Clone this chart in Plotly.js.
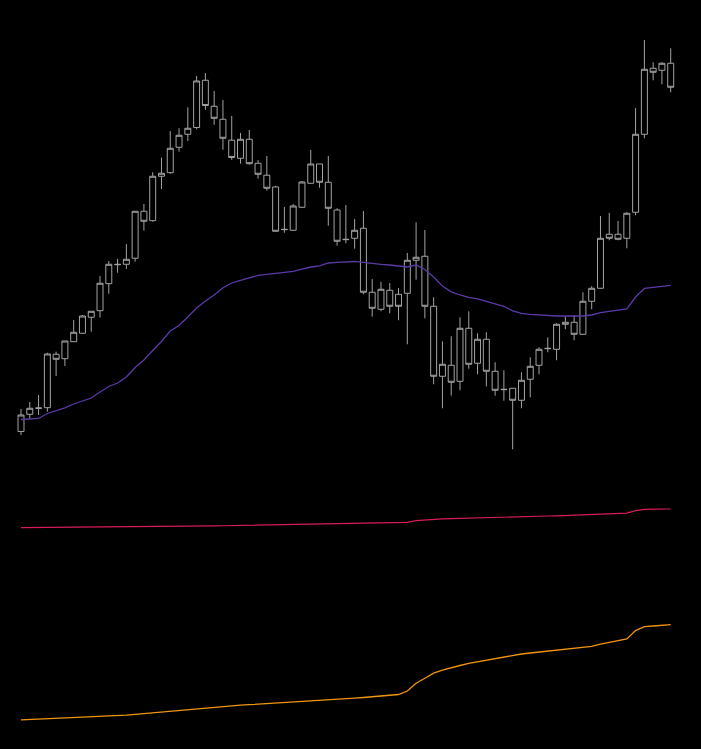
<!DOCTYPE html>
<html>
<head>
<meta charset="utf-8">
<script src="https://cdn.plot.ly/plotly-3.0.1.min.js"></script>
<style>html,body{margin:0;padding:0;background:#000;}#chart{width:701px;height:749px;}</style>
</head>
<body>
<div id="chart"></div>
<script>
// bar index
const bars = Array.from({length: 75}, (_, i) => i);

const openV  = [17.13,21.43,23.00,23.08,36.43,35.33,39.58,41.68,45.68,47.33,54.08,58.93,58.93,60.43,72.18,69.83,80.93,81.83,88.18,91.43,93.13,104.93,98.43,95.18,89.95,85.43,90.18,84.18,81.20,78.25,67.68,67.43,73.18,79.18,84.00,79.43,72.50,65.18,65.43,67.93,51.93,47.68,52.43,51.43,51.68,59.93,60.93,48.43,30.93,33.68,29.68,42.93,34.18,40.18,32.18,27.68,27.93,24.93,30.18,33.68,37.93,37.68,43.93,44.43,41.43,49.68,52.93,66.43,66.43,65.43,71.93,91.43,107.93,107.43,109.18];
const highV  = [22.75,24.50,26.25,36.83,37.08,39.75,45.00,46.25,47.18,56.00,59.75,60.25,64.00,72.18,74.00,81.93,85.58,92.25,92.93,98.18,106.00,106.75,102.25,100.00,96.00,91.75,92.50,85.00,86.00,78.50,73.25,74.00,79.75,87.50,84.00,86.00,72.93,73.75,70.25,72.25,55.25,54.50,54.25,53.00,61.75,69.43,67.50,50.68,39.68,40.93,45.68,47.18,41.68,41.93,34.43,32.43,27.93,31.93,35.68,38.18,40.68,44.18,45.93,46.18,51.93,53.43,71.00,71.75,69.75,71.93,98.00,115.00,109.43,109.43,112.93];
const lowV   = [16.25,20.25,21.25,22.08,31.00,33.50,39.50,41.60,42.08,45.58,51.58,56.83,57.75,59.58,67.33,69.58,77.75,81.58,87.08,89.75,92.68,97.55,93.80,87.55,85.05,84.08,83.83,80.33,77.33,67.10,66.83,67.35,73.10,79.10,78.08,68.58,63.58,64.18,62.83,51.43,45.83,47.18,46.68,44.93,38.93,55.08,45.43,28.93,22.93,26.08,27.43,32.83,31.43,28.43,26.08,24.83,12.68,22.93,25.68,31.43,36.93,34.93,42.68,39.93,41.35,47.68,52.85,64.93,64.93,62.93,71.18,90.43,104.93,103.93,101.93];
const closeV = [21.25,22.93,22.95,36.50,35.18,39.75,41.93,46.00,47.18,54.18,58.93,58.85,60.18,72.18,69.68,80.93,81.68,87.93,91.18,92.93,104.75,98.63,95.43,90.43,85.63,90.18,84.08,81.43,77.93,67.18,67.60,73.50,79.50,84.00,79.43,72.93,64.68,65.10,67.43,51.93,47.93,52.68,48.43,48.43,59.93,60.68,48.43,30.93,33.93,29.43,42.93,33.93,40.18,32.18,27.43,27.60,24.93,29.93,33.43,37.68,37.85,43.93,44.43,41.43,49.68,52.93,65.43,65.43,65.18,71.68,91.43,107.68,106.93,109.18,103.18];

// moving average (purple)
const maV = [20.13,20.25,20.38,21.63,22.25,23.05,24.00,24.75,25.50,27.00,28.38,29.25,30.75,33.13,35.00,37.38,39.63,42.25,43.63,45.75,48.00,49.75,51.25,53.08,54.25,54.93,55.55,56.13,56.43,56.70,56.90,57.18,57.70,58.25,58.55,59.25,59.40,59.53,59.63,59.38,59.05,58.90,58.75,58.43,58.25,58.75,57.63,55.75,53.50,52.05,51.25,50.68,50.30,49.63,49.05,48.43,47.30,46.68,46.38,46.20,46.08,46.00,46.00,46.00,46.00,46.25,46.85,47.18,47.50,47.75,50.75,52.88,53.18,53.45,53.68];

// middle panel (red)
const redV = [72.30,72.35,72.40,72.45,72.50,72.60,72.65,72.70,72.75,72.80,72.85,72.95,73.05,73.15,73.30,73.40,73.50,73.60,73.75,73.85,73.90,74.05,74.15,74.25,74.40,74.60,74.70,74.80,74.90,75.00,75.10,75.25,75.40,75.55,75.70,75.90,76.05,76.20,76.30,76.45,76.60,76.70,76.80,76.95,77.70,79.40,80.20,80.70,81.10,81.40,81.70,82.00,82.30,82.50,82.80,83.00,83.20,83.40,83.60,83.80,84.00,84.20,84.50,84.80,85.10,85.40,85.70,86.00,86.40,86.90,89.30,90.70,90.85,90.95,91.00];

// bottom panel (orange)
const orangeV = [20.1,20.5,20.7,21.0,21.3,21.6,22.0,22.4,22.8,23.2,23.7,24.1,24.8,25.6,26.4,27.2,28.2,29.1,30.0,30.8,31.6,32.4,33.2,34.0,34.4,34.9,35.3,35.8,36.2,36.8,37.3,37.8,38.3,38.9,39.4,40.0,40.7,41.2,41.8,42.5,43.2,43.9,44.6,45.5,49.0,56.8,61.8,66.8,69.8,72.4,74.5,76.7,78.2,79.7,81.3,83.0,84.8,86.0,87.0,88.0,88.9,89.8,90.7,91.6,92.6,93.7,95.9,97.8,99.3,101.0,109.4,113.3,114.0,114.6,115.3];

const candleStyle = {line: {color: '#a3a3a3', width: 1}, fillcolor: '#000000'};

const traces = [
  {type: 'scatter', mode: 'lines', x: bars, y: maV, xaxis: 'x', yaxis: 'y',
   line: {color: '#5b3aa8', width: 1.3}, hoverinfo: 'skip'},
  {type: 'candlestick', x: bars, open: openV, high: highV, low: lowV, close: closeV,
   xaxis: 'x', yaxis: 'y', increasing: candleStyle, decreasing: candleStyle,
   whiskerwidth: 0, hoverinfo: 'skip'},
  {type: 'scatter', mode: 'lines', x: bars, y: redV, xaxis: 'x', yaxis: 'y2',
   line: {color: '#d81b5c', width: 1.2}, hoverinfo: 'skip'},
  {type: 'scatter', mode: 'lines', x: bars, y: orangeV, xaxis: 'x', yaxis: 'y3',
   line: {color: '#f0950f', width: 1.3}, hoverinfo: 'skip'}
];

const hidden = {visible: false, showgrid: false, zeroline: false, fixedrange: true};

const layout = {
  width: 701, height: 749,
  margin: {l: 0, r: 0, t: 0, b: 0, pad: 0},
  paper_bgcolor: '#000000', plot_bgcolor: '#000000',
  showlegend: false, hovermode: false,
  boxgap: 0.32, boxgroupgap: 0,
  xaxis: Object.assign({}, hidden, {range: [-2.392, 77.45], rangeslider: {visible: false}, anchor: 'y'}),
  yaxis: Object.assign({}, hidden, {domain: [0.38585, 0.95995], range: [10, 117.5]}),
  yaxis2: Object.assign({}, hidden, {domain: [0.25234, 0.35915], range: [40, 120]}),
  yaxis3: Object.assign({}, hidden, {domain: [0.012016, 0.212283], range: [0, 150]})
};

Plotly.newPlot('chart', traces, layout, {staticPlot: true, displayModeBar: false});
</script>
</body>
</html>
